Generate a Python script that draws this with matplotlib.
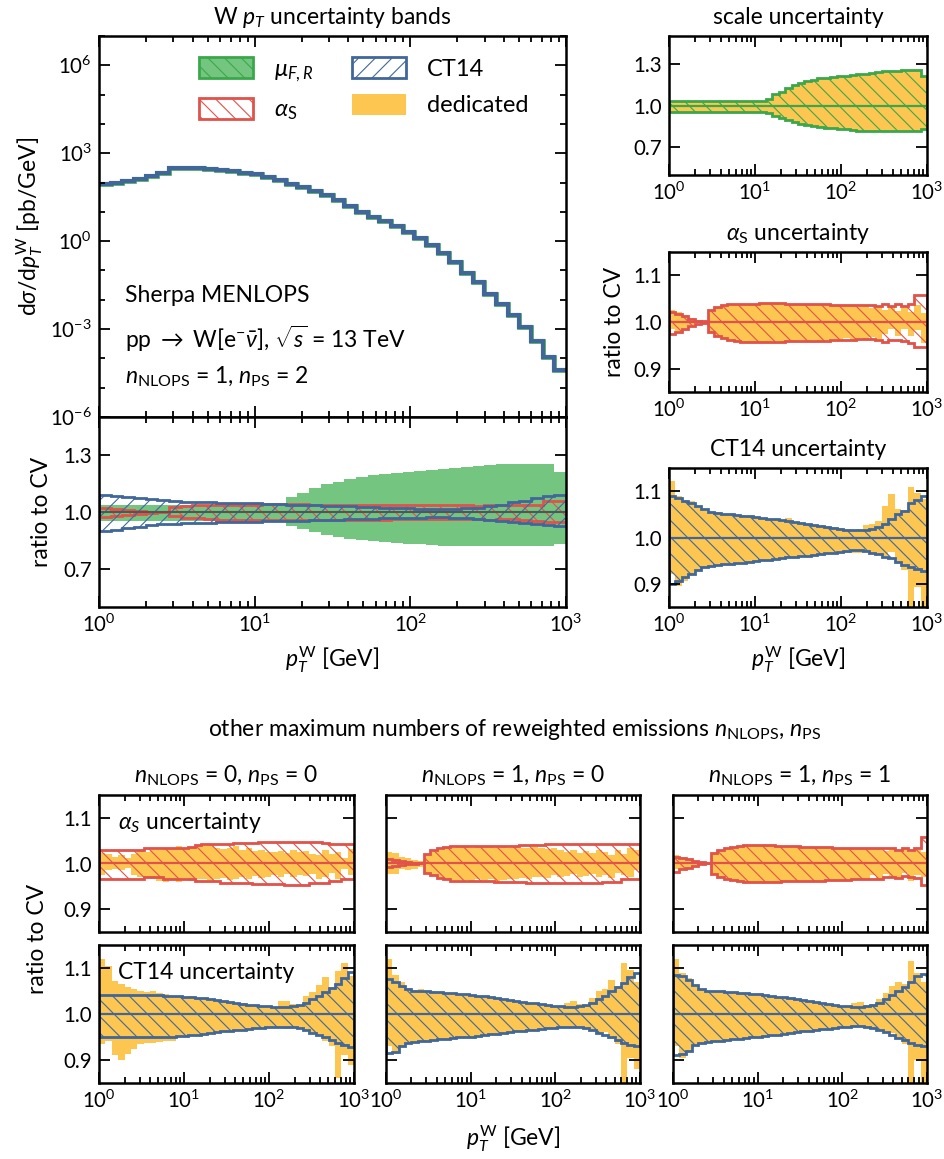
import numpy as np
import matplotlib
matplotlib.use('Agg')
import matplotlib.pyplot as plt
from matplotlib.patches import Patch
from matplotlib.ticker import NullFormatter

plt.rcParams['font.family'] = ['Lato', 'DejaVu Sans']
plt.rcParams['mathtext.fontset'] = 'custom'
plt.rcParams['mathtext.rm'] = 'Lato'
plt.rcParams['mathtext.it'] = 'Lato:italic'
plt.rcParams['mathtext.bf'] = 'Lato:bold'
plt.rcParams['font.size'] = 16
plt.rcParams['hatch.linewidth'] = 0.8

GREEN = '#3aa84a'
GREEN_FILL = '#74c580'
RED = '#e0524a'
BLUE = '#41679a'
YELLOW = '#fdc651'

# 40 log bins from 1 to 1000 GeV
edges = np.logspace(0, 3, 41)

# W pT spectrum [pb/GeV]
spec = [87, 100, 112, 135, 162, 204, 309, 316, 309, 295,
        275, 251, 219, 191, 155, 126, 91, 68, 51, 38,
        24.5, 15.8, 10.0, 6.6, 4.8, 3.2, 2.1, 1.3, 0.72, 0.40,
        0.195, 0.083, 0.041, 0.016, 0.007, 0.0031, 0.0012, 0.00038, 0.000115, 0.00004]

# all bands below: deviation from CV in percent
scale_up = [3.5, 3.5, 3.5, 3.5, 3.5, 3.5, 3.5, 3.5, 3.5, 3.5,
            3.5, 3.5, 3.5, 3.5, 3.5, 4.5, 8.0, 10.0, 12.5, 14.5,
            16.0, 17.5, 18.5, 19.5, 20.0, 20.5, 21.0, 21.5, 22.0, 22.5,
            23.0, 23.5, 24.0, 24.5, 25.0, 25.0, 25.5, 25.5, 25.5, 21.0]
scale_dn = [-4.5, -4.5, -4.5, -4.5, -4.5, -4.5, -4.5, -4.5, -4.5, -4.5,
            -4.5, -4.5, -4.5, -4.5, -4.5, -5.5, -7.5, -9.0, -10.5, -12.0,
            -13.0, -14.0, -15.0, -15.5, -16.0, -16.5, -17.0, -17.0, -17.5, -18.0,
            -18.0, -18.0, -18.0, -18.0, -18.0, -18.0, -18.0, -18.0, -18.0, -17.0]

# nNLOPS = 1, nPS = 2
a12_up = [2.1, 1.8, 1.2, 0.7, 0.2, -0.2, 2.5, 3.2, 3.6, 3.8,
          3.9, 3.9, 3.9, 3.9, 4.0, 4.0, 4.0, 4.0, 3.9, 3.9,
          3.9, 3.9, 3.9, 3.9, 3.9, 3.7, 3.7, 3.7, 3.7, 3.7,
          3.7, 3.6, 3.4, 3.8, 3.5, 3.8, 3.5, 3.9, 5.7, 5.7]
a12_dn = [-2.5, -2.1, -1.4, -0.9, -0.4, 0.2, -2.1, -2.9, -3.4, -3.8,
          -4.1, -4.2, -4.2, -4.2, -4.2, -4.2, -4.2, -4.2, -4.1, -4.1,
          -4.1, -4.1, -4.1, -4.0, -4.0, -3.8, -3.8, -3.8, -3.8, -3.7,
          -3.7, -3.6, -3.8, -4.3, -3.9, -3.9, -4.1, -4.6, -5.4, -5.4]
a12_ded_up = [2.6, 2.2, 1.5, 0.8, 0.4, 0.2, 2.5, 3.1, 3.5, 3.8,
              3.9, 3.9, 3.9, 3.9, 4.0, 4.0, 4.0, 3.9, 3.8, 3.9,
              3.7, 3.8, 3.6, 3.8, 3.7, 3.5, 3.6, 3.4, 3.6, 3.3,
              3.5, 3.0, 3.3, 2.6, 3.2, 2.4, 3.0, 2.2, 3.6, 2.0]
a12_ded_dn = [-1.5, -2.0, -1.2, -0.7, -0.3, 0.0, -2.1, -2.9, -3.4, -3.8,
              -4.1, -4.2, -4.2, -4.2, -4.2, -4.2, -4.1, -4.2, -4.0, -4.1,
              -3.9, -4.0, -3.9, -4.0, -3.8, -3.7, -3.8, -3.5, -3.8, -3.4,
              -3.7, -3.2, -3.6, -2.6, -1.6, -3.0, -1.4, -3.0, -1.8, -4.5]
c12_up = [9.0, 8.6, 7.9, 7.5, 6.8, 6.1, 5.6, 5.3, 5.1, 5.0,
          4.9, 4.7, 4.6, 4.5, 4.2, 4.1, 3.9, 3.7, 3.5, 3.3,
          3.1, 2.9, 2.8, 2.5, 2.3, 2.1, 1.9, 1.7, 1.6, 1.6,
          1.7, 1.9, 2.3, 2.9, 3.9, 5.0, 5.7, 7.5, 8.2, 9.0]
c12_dn = [-10.0, -9.3, -8.5, -7.8, -7.1, -6.4, -6.1, -5.9, -5.8, -5.7,
          -5.5, -5.4, -5.3, -5.1, -4.9, -4.8, -4.6, -4.5, -4.3, -4.2,
          -4.0, -3.9, -3.7, -3.6, -3.4, -3.3, -3.1, -3.0, -2.8, -2.8,
          -3.0, -3.3, -3.6, -4.2, -4.5, -5.3, -6.0, -6.4, -6.9, -7.3]
c12_ded_up = [12.3, 9.0, 8.1, 7.8, 6.8, 6.1, 5.6, 5.4, 5.1, 5.0,
              4.9, 4.8, 4.6, 4.5, 4.3, 4.1, 4.0, 3.8, 4.2, 3.4,
              3.1, 3.0, 2.8, 2.6, 2.4, 2.2, 2.0, 1.8, 1.7, 1.8,
              2.8, 3.0, 3.5, 6.8, 9.4, 6.1, 6.0, 11.0, 9.7, 8.3]
c12_ded_dn = [-7.8, -10.4, -9.3, -8.0, -7.1, -6.4, -6.1, -5.9, -5.8, -5.7,
              -5.5, -5.4, -5.3, -5.1, -4.9, -4.8, -4.6, -4.5, -4.3, -4.2,
              -4.0, -3.9, -3.7, -3.6, -3.4, -3.3, -3.1, -3.3, -3.4, -3.4,
              -3.0, -3.3, -3.6, -4.1, -3.1, -5.3, -7.1, -15.0, -10.7, -15.0]

# nNLOPS = 0, nPS = 0
a00_up = [3.0, 3.0, 3.0, 3.0, 3.0, 3.0, 3.0, 3.3, 3.3, 3.3,
          3.5, 3.5, 3.5, 3.5, 3.6, 4.0, 4.2, 4.2, 4.2, 4.2,
          4.2, 4.4, 4.4, 4.4, 4.4, 4.7, 4.7, 4.7, 4.7, 4.7,
          4.7, 4.7, 4.7, 4.7, 4.7, 4.5, 4.3, 4.3, 4.3, 4.3]
a00_dn = [-3.3, -3.3, -3.3, -3.3, -3.3, -3.3, -3.3, -3.0, -3.0, -3.0,
          -3.5, -3.5, -3.5, -3.5, -3.5, -3.8, -3.8, -3.8, -3.8, -4.2,
          -4.2, -4.2, -4.2, -4.2, -4.5, -4.5, -4.5, -4.5, -4.5, -4.6,
          -4.6, -4.6, -4.6, -4.3, -4.3, -4.3, -3.8, -3.8, -3.3, -3.3]
a00_ded_up = [2.3, 2.0, 1.5, 1.8, 1.2, 2.0, 2.8, 2.5, 3.0, 3.0,
              3.2, 3.5, 3.8, 3.3, 3.5, 4.0, 3.8, 4.0, 3.5, 3.2,
              3.5, 3.8, 3.0, 3.3, 2.8, 3.0, 2.6, 2.5, 2.8, 2.2,
              3.0, 2.5, 2.8, 2.0, 1.8, 3.0, 2.0, 2.5, 1.2, 3.2]
a00_ded_dn = [-2.5, -1.5, -1.2, -1.5, -1.0, -2.5, -3.0, -3.2, -3.5, -3.8,
              -4.0, -3.5, -4.0, -3.2, -3.8, -3.5, -3.3, -3.6, -3.5, -3.2,
              -3.7, -3.4, -3.0, -3.3, -2.8, -3.1, -2.9, -2.6, -2.9, -2.3,
              -3.0, -2.6, -2.8, -2.2, -3.5, -3.0, -2.0, -3.5, -1.2, -2.5]
c00_up = [4.1, 4.1, 4.1, 4.1, 4.1, 4.1, 4.1, 4.1, 4.1, 4.1,
          4.0, 4.0, 3.9, 3.8, 3.7, 3.5, 3.4, 3.2, 3.0, 2.8,
          2.6, 2.4, 2.2, 2.0, 1.9, 1.8, 1.7, 1.6, 1.6, 1.6,
          1.7, 2.0, 2.5, 3.3, 4.0, 4.7, 5.6, 6.5, 7.8, 9.2]
c00_dn = [-5.1, -5.1, -5.1, -5.1, -5.1, -5.1, -5.1, -5.1, -5.1, -5.1,
          -5.0, -4.9, -4.8, -4.7, -4.6, -4.5, -4.3, -4.2, -4.0, -3.8,
          -3.7, -3.5, -3.4, -3.2, -3.1, -3.0, -2.9, -2.8, -2.8, -2.8,
          -2.9, -3.1, -3.5, -4.1, -4.6, -5.1, -5.7, -6.2, -6.7, -7.1]
c00_ded_up = [12.0, 10.5, 7.2, 6.5, 5.8, 5.4, 5.1, 4.8, 5.0, 4.6,
              4.4, 4.0, 3.9, 3.8, 3.9, 3.5, 3.5, 3.2, 3.1, 2.8,
              2.7, 2.4, 2.3, 2.0, 2.0, 1.8, 1.8, 1.6, 2.8, 2.9,
              2.2, 2.0, 4.0, 4.7, 6.2, 8.0, 5.8, 9.4, 11.0, 8.3]
c00_ded_dn = [-6.5, -5.8, -9.0, -10.0, -8.7, -7.6, -6.5, -6.3, -6.3, -6.0,
              -5.8, -5.8, -5.0, -4.8, -4.7, -4.5, -4.3, -4.2, -4.0, -3.8,
              -3.7, -3.5, -3.4, -3.2, -3.1, -3.0, -2.9, -2.8, -2.8, -3.2,
              -2.9, -3.1, -3.5, -4.1, -4.4, -5.8, -6.9, -14.0, -9.0, -11.0]

# nNLOPS = 1, nPS = 0
a10_up = [0.9, 0.7, 0.5, 0.3, 0.1, 0.0, 2.1, 2.9, 3.3, 3.6,
          3.8, 3.9, 3.9, 3.9, 3.9, 3.9, 3.9, 3.8, 3.8, 3.8,
          3.8, 4.0, 4.0, 4.0, 4.0, 4.3, 4.3, 4.3, 4.3, 4.3,
          4.3, 4.3, 4.3, 4.3, 4.3, 4.3, 4.3, 4.2, 4.2, 4.2]
a10_dn = [-0.7, -0.6, -0.4, -0.2, -0.1, 0.0, -2.0, -2.6, -3.1, -3.5,
          -3.8, -3.8, -3.8, -3.8, -3.8, -3.8, -3.8, -4.1, -4.1, -4.1,
          -4.1, -4.1, -4.2, -4.2, -4.2, -4.2, -4.2, -4.2, -4.2, -4.2,
          -4.2, -4.2, -4.2, -4.2, -4.0, -4.0, -4.0, -3.5, -3.5, -3.5]
a10_ded_up = [2.5, 2.4, 1.4, 1.2, 0.8, 0.5, 2.0, 2.6, 3.0, 3.3,
              3.5, 3.6, 3.8, 3.5, 3.7, 3.6, 3.8, 3.5, 3.7, 3.4,
              3.6, 3.5, 3.3, 3.6, 3.4, 3.2, 3.5, 3.0, 2.6, 3.0,
              2.4, 2.8, 2.2, 3.0, 2.5, 1.8, 3.0, 2.0, 3.5, 3.0]
a10_ded_dn = [-2.4, -2.2, -1.3, -1.5, -1.2, -0.8, -2.0, -2.6, -3.0, -3.3,
              -3.6, -3.7, -3.6, -3.8, -3.5, -3.7, -3.5, -3.8, -3.6, -3.4,
              -3.5, -3.2, -3.4, -3.0, -3.0, -3.2, -2.6, -3.0, -2.8, -2.4,
              -3.0, -2.7, -2.2, -3.0, -2.5, -3.2, -2.0, -2.6, -3.0, -1.5]
c10_up = [7.6, 7.0, 6.0, 5.4, 5.1, 5.0, 4.9, 4.8, 4.7, 4.6,
          4.5, 4.4, 4.3, 4.2, 4.0, 3.9, 3.7, 3.5, 3.3, 3.1,
          2.9, 2.7, 2.5, 2.3, 2.1, 2.0, 1.8, 1.7, 1.6, 1.6,
          1.7, 2.0, 2.5, 3.3, 4.0, 4.9, 5.8, 6.8, 8.0, 9.0]
c10_dn = [-8.5, -8.2, -6.9, -6.2, -6.0, -5.9, -5.8, -5.6, -5.5, -5.4,
          -5.3, -5.1, -5.0, -4.9, -4.7, -4.6, -4.4, -4.3, -4.1, -4.0,
          -3.8, -3.7, -3.5, -3.4, -3.2, -3.1, -3.0, -2.9, -2.8, -2.8,
          -2.9, -3.1, -3.5, -4.1, -4.6, -5.1, -5.7, -6.2, -6.7, -7.0]
c10_ded_up = [12.0, 8.5, 7.0, 5.6, 5.3, 5.4, 5.0, 4.9, 4.7, 4.6,
              4.5, 4.4, 4.3, 4.2, 4.0, 3.9, 3.7, 3.5, 3.3, 3.1,
              2.9, 2.7, 2.5, 2.3, 2.1, 2.0, 1.8, 1.7, 2.5, 2.8,
              2.2, 2.0, 3.5, 5.0, 5.5, 7.5, 6.0, 11.0, 9.5, 7.0]
c10_ded_dn = [-7.0, -8.8, -6.9, -6.2, -6.0, -5.9, -5.8, -5.6, -5.5, -5.4,
              -5.3, -5.1, -5.0, -4.9, -4.7, -4.6, -4.4, -4.3, -4.1, -4.0,
              -3.8, -3.7, -3.5, -3.4, -3.2, -3.1, -3.0, -2.9, -2.8, -2.8,
              -2.9, -3.1, -3.5, -4.1, -4.0, -5.5, -6.5, -15.0, -9.5, -12.0]

# nNLOPS = 1, nPS = 1
a11_up = [1.5, 1.2, 0.9, 0.6, 0.3, 0.0, 2.2, 2.9, 3.4, 3.7,
          3.9, 4.0, 4.0, 4.0, 4.0, 4.0, 3.9, 3.8, 3.8, 3.8,
          3.7, 3.7, 3.7, 3.6, 3.6, 3.5, 3.5, 3.5, 3.4, 3.4,
          3.4, 3.3, 3.3, 3.5, 3.5, 3.0, 3.3, 3.0, 3.5, 5.8]
a11_dn = [-1.8, -1.3, -0.9, -0.5, -0.2, 0.0, -2.2, -2.9, -3.4, -3.7,
          -3.9, -4.0, -4.0, -4.0, -4.0, -4.0, -4.0, -3.9, -3.9, -3.9,
          -3.8, -3.8, -3.8, -3.8, -3.7, -3.7, -3.6, -3.6, -3.5, -3.5,
          -3.4, -3.4, -3.3, -3.0, -3.0, -3.2, -2.8, -3.0, -3.2, -4.8]
a11_ded_up = [1.8, 1.4, 1.0, 0.6, 0.3, 0.1, 2.2, 2.9, 3.4, 3.7,
              3.9, 4.0, 4.0, 4.0, 4.0, 4.0, 3.9, 3.8, 3.8, 3.7,
              3.7, 3.6, 3.7, 3.5, 3.6, 3.4, 3.5, 3.3, 3.4, 3.2,
              3.4, 3.1, 3.3, 2.8, 3.5, 2.6, 3.3, 2.5, 3.0, 2.5]
a11_ded_dn = [-1.2, -1.5, -0.9, -0.5, -0.2, -0.1, -2.2, -2.9, -3.4, -3.7,
              -3.9, -4.0, -4.0, -4.0, -4.0, -4.0, -4.0, -3.9, -3.9, -3.9,
              -3.8, -3.8, -3.8, -3.8, -3.7, -3.7, -3.6, -3.6, -3.5, -3.5,
              -3.4, -2.6, -3.3, -2.2, -3.0, -3.4, -2.0, -3.8, -2.5, -3.0]
c11_up = [8.4, 8.2, 7.5, 6.2, 5.5, 5.1, 5.0, 4.9, 4.8, 4.7,
          4.6, 4.5, 4.4, 4.3, 4.1, 3.9, 3.8, 3.6, 3.4, 3.2,
          3.0, 2.8, 2.6, 2.4, 2.2, 2.0, 1.8, 1.7, 1.6, 1.6,
          1.7, 2.0, 2.5, 3.3, 4.2, 5.0, 5.8, 7.0, 8.2, 8.8]
c11_dn = [-9.0, -8.8, -8.0, -6.8, -6.2, -6.0, -5.9, -5.8, -5.7, -5.5,
          -5.4, -5.3, -5.1, -5.0, -4.8, -4.6, -4.5, -4.3, -4.1, -4.0,
          -3.8, -3.6, -3.5, -3.3, -3.2, -3.0, -2.9, -2.8, -2.7, -2.7,
          -2.8, -3.1, -3.5, -4.0, -4.6, -5.2, -5.7, -6.2, -6.8, -7.0]
c11_ded_up = [12.0, 9.0, 7.8, 6.4, 5.5, 5.1, 5.0, 4.9, 4.8, 4.7,
              4.6, 4.5, 4.4, 4.3, 4.1, 3.9, 3.8, 3.6, 3.4, 3.2,
              3.0, 2.8, 2.6, 2.4, 2.2, 2.0, 1.8, 1.7, 2.4, 2.6,
              2.0, 2.2, 3.2, 4.5, 6.0, 7.0, 6.5, 11.5, 9.0, 7.0]
c11_ded_dn = [-7.0, -9.5, -8.0, -6.8, -6.2, -6.0, -5.9, -5.8, -5.7, -5.5,
              -5.4, -5.3, -5.1, -5.0, -4.8, -4.6, -4.5, -4.3, -4.1, -4.0,
              -3.8, -3.6, -3.5, -3.3, -3.2, -3.0, -2.9, -2.8, -2.7, -2.7,
              -2.8, -3.1, -3.5, -4.0, -4.2, -5.2, -6.5, -15.0, -10.0, -15.0]

col_titles = [r'$n_{\rm NLOPS}$ = 0, $n_{\rm PS}$ = 0',
              r'$n_{\rm NLOPS}$ = 1, $n_{\rm PS}$ = 0',
              r'$n_{\rm NLOPS}$ = 1, $n_{\rm PS}$ = 1']

HB = '\\\\'   # falling hatch
HF = '//'     # rising hatch
FS = 16.5     # labels / titles
TS = 14.8     # tick labels


def r(v):
    return 1 + np.asarray(v) / 100.


W, H = 944, 1159
fig = plt.figure(figsize=(W / 100, H / 100), dpi=100)


def box(x0, y0, x1, y1):
    return [x0 / W, 1 - y1 / H, (x1 - x0) / W, (y1 - y0) / H]


def setup(ax, ylim=None, yticks=None, xlabels=True, ylabels=True):
    ax.set_xscale('log')
    ax.set_xlim(1, 1000)
    if ylim is not None:
        ax.set_ylim(*ylim)
        ax.set_yticks(yticks)
        ax.set_yticklabels(['%.1f' % t for t in yticks])
    ax.tick_params(which='both', direction='in', top=True, right=True,
                   width=1.3, labelsize=TS)
    ax.tick_params(which='major', length=8, pad=5)
    ax.tick_params(which='minor', length=4)
    ax.tick_params(labelbottom=xlabels, labelleft=ylabels)
    for s in ax.spines.values():
        s.set_linewidth(1.8)


def band(ax, up, dn, color, hatch, ded_up=None, ded_dn=None):
    if ded_up is not None:
        ax.stairs(r(ded_up), edges, baseline=r(ded_dn), fill=True,
                  color=YELLOW, lw=0)
    ax.stairs(r(up), edges, baseline=r(dn), fill=True, facecolor='none',
              edgecolor=color, hatch=hatch, lw=2)
    ax.plot([1, 1000], [1, 1], color=color, lw=1.6)


xlab = r'$p_T^{\rm W}$ [GeV]'

# ---- main panel
ax_spec = fig.add_axes(box(99, 36, 566, 417))
ax_spec.stairs(spec, edges, baseline=None, color=GREEN, lw=3.3)
ax_spec.stairs(spec, edges, baseline=None, color=BLUE, lw=3.0)
ax_spec.set_yscale('log')
setup(ax_spec, xlabels=False)
ax_spec.set_ylim(1e-6, 1e7)
ax_spec.set_yticks([1e-6, 1e-3, 1, 1e3, 1e6])
ax_spec.set_yticks([10.0 ** k for k in range(-6, 8)], minor=True)
ax_spec.yaxis.set_minor_formatter(NullFormatter())
ax_spec.set_ylabel(r'd$\sigma$/d$p_T^{\rm W}$ [pb/GeV]', fontsize=FS)
ax_spec.set_title(r'W $p_T$ uncertainty bands', fontsize=FS, pad=9)
ax_spec.text(0.055, 0.32, 'Sherpa MENLOPS', transform=ax_spec.transAxes,
             fontsize=FS, va='center')
ax_spec.text(0.055, 0.205, r'pp $\rightarrow$ W[e$^{-}\bar{\nu}$], $\sqrt{s}$ = 13 TeV',
             transform=ax_spec.transAxes, fontsize=FS, va='center')
ax_spec.text(0.055, 0.105, r'$n_{\rm NLOPS}$ = 1, $n_{\rm PS}$ = 2',
             transform=ax_spec.transAxes, fontsize=FS, va='center')

handles = [Patch(facecolor=GREEN_FILL, edgecolor=GREEN, hatch=HB, lw=2),
           Patch(facecolor='none', edgecolor=RED, hatch=HB, lw=2),
           Patch(facecolor='none', edgecolor=BLUE, hatch=HF, lw=2),
           Patch(facecolor=YELLOW, edgecolor='none')]
labels = [r'$\mu_{F,R}$', r'$\alpha_{\rm S}$', 'CT14', 'dedicated']
ax_spec.legend(handles, labels, ncol=2, loc='upper left', frameon=False,
               bbox_to_anchor=(0.214, 0.945), borderpad=0, borderaxespad=0,
               handlelength=2.3, handleheight=1.0, columnspacing=1.6,
               labelspacing=0.6, handletextpad=0.9, fontsize=17)

ax_rat = fig.add_axes(box(99, 417, 566, 607))
ax_rat.stairs(r(scale_up), edges, baseline=r(scale_dn), fill=True,
              color=GREEN_FILL, lw=0)
ax_rat.stairs(r(a12_up), edges, baseline=r(a12_dn), fill=True, facecolor='none',
              edgecolor=RED, hatch=HB, lw=2)
ax_rat.stairs(r(c12_up), edges, baseline=r(c12_dn), fill=True, facecolor='none',
              edgecolor=BLUE, hatch=HF, lw=2)
ax_rat.plot([1, 1000], [1, 1], color='#555555', lw=1.5)
setup(ax_rat, (0.5, 1.5), [0.7, 1.0, 1.3])
ax_rat.set_ylabel('ratio to CV', fontsize=FS, labelpad=8)
ax_rat.set_xlabel(xlab, fontsize=FS, labelpad=6)

# ---- right column
RX0, RX1 = 669, 927
ax_sc = fig.add_axes(box(RX0, 36, RX1, 175))
band(ax_sc, scale_up, scale_dn, GREEN, HB, scale_up, scale_dn)
setup(ax_sc, (0.5, 1.5), [0.7, 1.0, 1.3])
ax_sc.set_title('scale uncertainty', fontsize=FS, pad=9)

ax_as = fig.add_axes(box(RX0, 252, RX1, 392))
band(ax_as, a12_up, a12_dn, RED, HB, a12_ded_up, a12_ded_dn)
setup(ax_as, (0.85, 1.15), [0.9, 1.0, 1.1])
ax_as.set_title(r'$\alpha_{\rm S}$ uncertainty', fontsize=FS, pad=9)
ax_as.set_ylabel('ratio to CV', fontsize=FS, labelpad=6)

ax_ct = fig.add_axes(box(RX0, 468, RX1, 607))
band(ax_ct, c12_up, c12_dn, BLUE, HB, c12_ded_up, c12_ded_dn)
setup(ax_ct, (0.85, 1.15), [0.9, 1.0, 1.1])
ax_ct.set_title('CT14 uncertainty', fontsize=FS, pad=9)
ax_ct.set_xlabel(xlab, fontsize=FS, labelpad=6)

# ---- bottom row
fig.text(515 / W, 1 - 730 / H,
         r'other maximum numbers of reweighted emissions $n_{\rm NLOPS}$, $n_{\rm PS}$',
         ha='center', va='center', fontsize=FS)

a_sets = [(a00_up, a00_dn, a00_ded_up, a00_ded_dn),
          (a10_up, a10_dn, a10_ded_up, a10_ded_dn),
          (a11_up, a11_dn, a11_ded_up, a11_ded_dn)]
c_sets = [(c00_up, c00_dn, c00_ded_up, c00_ded_dn),
          (c10_up, c10_dn, c10_ded_up, c10_ded_dn),
          (c11_up, c11_dn, c11_ded_up, c11_ded_dn)]
cols = [(99, 354), (386, 640), (673, 927)]
for i, (x0, x1) in enumerate(cols):
    axa = fig.add_axes(box(x0, 795, x1, 932))
    up, dn, dup, ddn = a_sets[i]
    band(axa, up, dn, RED, HB, dup, ddn)
    setup(axa, (0.85, 1.15), [0.9, 1.0, 1.1], xlabels=False, ylabels=(i == 0))
    axa.set_title(col_titles[i], fontsize=FS, pad=9)

    axc = fig.add_axes(box(x0, 945, x1, 1083))
    up, dn, dup, ddn = c_sets[i]
    band(axc, up, dn, BLUE, HB, dup, ddn)
    setup(axc, (0.85, 1.15), [0.9, 1.0, 1.1], ylabels=(i == 0))
    if i == 0:
        axa.text(0.075, 0.8, r'$\alpha_S$ uncertainty', transform=axa.transAxes,
                 fontsize=FS, va='center')
        axc.text(0.075, 0.8, 'CT14 uncertainty', transform=axc.transAxes,
                 fontsize=FS, va='center')
    if i == 1:
        axc.set_xlabel(xlab, fontsize=FS, labelpad=8)

fig.text(38 / W, 1 - 939 / H, 'ratio to CV', rotation=90, ha='center',
         va='center', fontsize=FS)

fig.savefig('out.png', dpi=100)
